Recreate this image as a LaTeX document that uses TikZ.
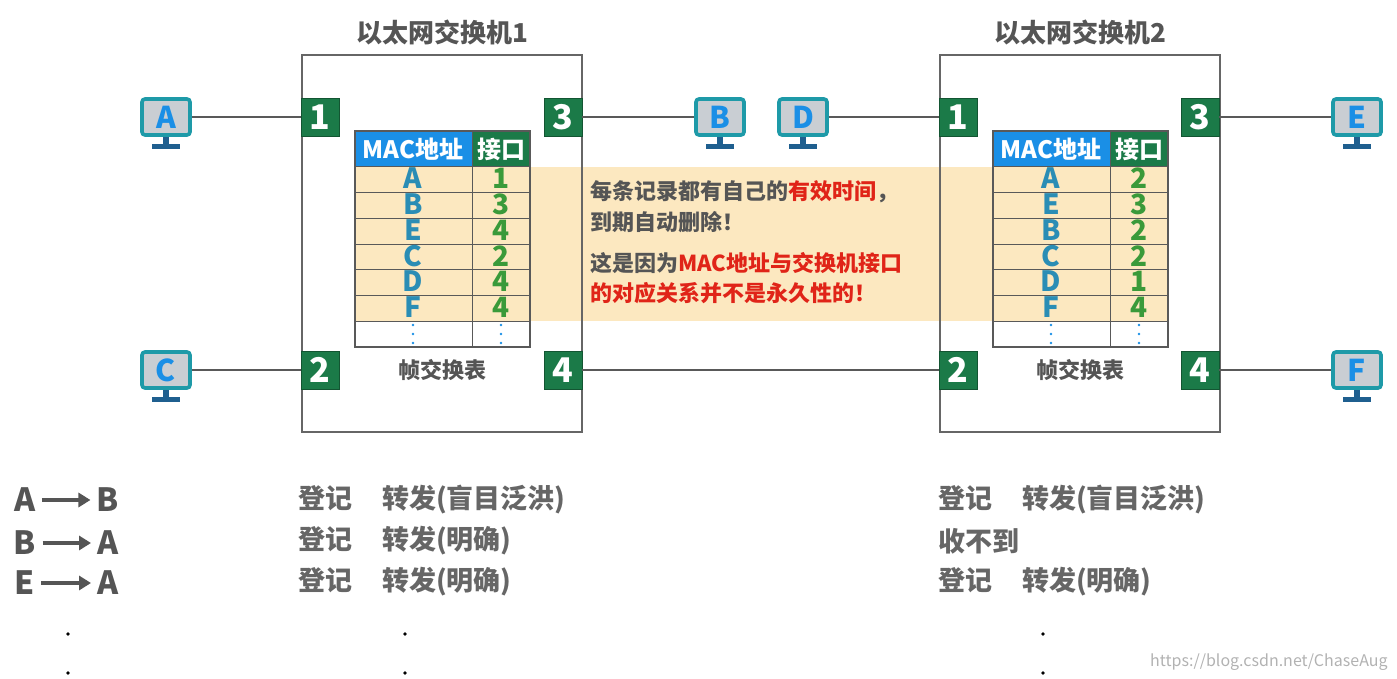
\documentclass[tikz,border=0pt]{standalone}
\usepackage{fontspec}
\setmainfont{Noto Sans CJK SC}
\usetikzlibrary{arrows.meta,calc}
\definecolor{pgreen}{HTML}{1B7A48}
\definecolor{hblue}{HTML}{1A8FE6}
\definecolor{lteal}{HTML}{2A8DB5}
\definecolor{ngreen}{HTML}{3A9A3A}
\definecolor{tgray}{HTML}{555555}
\definecolor{tred}{HTML}{E02418}
\definecolor{band}{HTML}{FCE8C0}
\definecolor{mon}{HTML}{1E9AA8}
\definecolor{monfill}{HTML}{C9CED3}
\definecolor{stand}{HTML}{1F5F8F}
\tikzset{x=0.5pt,y=-0.5pt,
 port/.style={fill=pgreen,draw=pgreen!70!black,minimum size=19pt,inner sep=0pt,text=white,font=\fontsize{17}{17}\selectfont\bfseries},
 sw/.style={draw=gray!80!black,line width=0.6pt},
 link/.style={draw=gray!70!black,line width=0.9pt},
 ttl/.style={font=\fontsize{13}{13}\selectfont\bfseries,text=tgray},
 btxt/.style={font=\fontsize{13.5}{14}\selectfont\bfseries,text=tgray!90,anchor=west,inner sep=0pt},
 cell/.style={font=\fontsize{12}{12}\selectfont\bfseries,inner sep=0pt},
 ent/.style={inner sep=0pt,font=\fontsize{14}{14}\selectfont\bfseries,text height=9pt,text depth=0pt},
}
\newcommand{\pc}[3]{%
 \node[draw=mon,line width=1.8pt,fill=monfill,rounded corners=1.5pt,minimum width=24pt,minimum height=18pt,inner sep=0pt,text=hblue,font=\fontsize{15}{15}\selectfont\bfseries] (#1) at (#2) {#3};
 \fill[stand] ($(#1.south)+(-3,0)$) rectangle ($(#1.south)+(3,7)$);
 \fill[stand] ($(#1.south)+(-14,7)$) rectangle ($(#1.south)+(14,12)$);
}
\newcommand{\mactable}[3]{%
 \begin{scope}[shift={(#1,0)}]
 \fill[hblue] (0,131) rectangle (117,167);
 \fill[pgreen] (117,131) rectangle (175,167);
 \node[cell,text=white] at (58,149) {MAC地址};
 \node[cell,text=white] at (146,149) {接口};
 \foreach \i in {0,...,6} {\draw[gray!70!black,line width=0.5pt] (0,{167+\i*25.7}) -- (175,{167+\i*25.7});}
 \draw[gray!70!black,line width=0.6pt] (0,131) rectangle (175,347);
 \draw[gray!70!black,line width=0.5pt] (117,131) -- (117,347);
 \foreach \l [count=\i from 0] in {#2} {\node[ent,text=lteal] at (58,{180+\i*25.7}) {\l};}
 \foreach \l [count=\i from 0] in {#3} {\node[ent,text=ngreen] at (146,{180+\i*25.7}) {\l};}
 \foreach \xx in {58,146} {\foreach \yy in {325,334,343} \fill[hblue] (\xx,\yy) circle (1.4);}
 \node[ttl,font=\fontsize{11}{11}\selectfont\bfseries] at (87,370) {帧交换表};
 \end{scope}}
\begin{document}
\begin{tikzpicture}
\useasboundingbox (0,0) rectangle (1397,679);
\fill[band] (355,167) rectangle (1167,321);
\draw[sw] (302,55) rectangle (582,432);
\draw[sw] (940,55) rectangle (1220,432);
\node[ttl] at (442,32) {以太网交换机1};
\node[ttl] at (1080,32) {以太网交换机2};
\mactable{355}{A,B,E,C,D,F}{1,3,4,2,4,4}
\mactable{993}{A,E,B,C,D,F}{2,3,2,2,1,4}
\begin{scope}[every node/.style={anchor=west,font=\fontsize{11}{11}\selectfont\bfseries,text=tgray,inner sep=0pt}]
\node at (590,192) {每条记录都有自己的\textcolor{tred}{有效时间}，};
\node at (590,222) {到期自动删除！};
\node at (590,263) {这是因为\textcolor{tred}{MAC地址与交换机接口}};
\node[text=tred] at (590,293) {的对应关系并不是永久性的！};
\end{scope}
\node[port] (p11) at (320,117) {1};
\node[port] (p13) at (563,117) {3};
\node[port] (p12) at (320,370) {2};
\node[port] (p14) at (563,370) {4};
\node[port] (p21) at (958,117) {1};
\node[port] (p23) at (1200,117) {3};
\node[port] (p22) at (958,370) {2};
\node[port] (p24) at (1200,370) {4};
\pc{A}{166,117}{A}
\pc{B}{720,117}{B}
\pc{D}{803,117}{D}
\pc{E}{1357,117}{E}
\pc{C}{166,370}{C}
\pc{F}{1357,370}{F}
\draw[link] (A) -- (p11);
\draw[link] (p13) -- (B);
\draw[link] (D) -- (p21);
\draw[link] (p23) -- (E);
\draw[link] (C) -- (p12);
\draw[link] (p14) -- (p22);
\draw[link] (p24) -- (F);
\begin{scope}[every node/.style={font=\fontsize{16}{16}\selectfont\bfseries,text=tgray,inner sep=0pt}]
\foreach \a/\b/\yy in {A/B/500,B/A/543,E/A/583}{
 \node (s\yy) at (25,\yy) {\a};
 \node (t\yy) at (108,\yy) {\b};
 \draw[tgray,line width=2.4pt,-{Triangle[length=6pt,width=7pt]}] (s\yy.east) ++(6,0) -- ($(t\yy.west)+(-6,0)$);
}
\end{scope}
\node[btxt] at (298,500) {登记\hspace{1.1em}转发(盲目泛洪)};
\node[btxt] at (298,541) {登记\hspace{1.1em}转发(明确)};
\node[btxt] at (298,582) {登记\hspace{1.1em}转发(明确)};
\node[btxt] at (938,500) {登记\hspace{1.1em}转发(盲目泛洪)};
\node[btxt] at (938,541) {收不到};
\node[btxt] at (938,582) {登记\hspace{1.1em}转发(明确)};
\foreach \xx in {68,405,1043}{\fill[black] (\xx,634) circle (1.8); \fill[black] (\xx,673) circle (1.8);}
\node[anchor=east,font=\fontsize{8}{8}\selectfont,text=gray!60,inner sep=0pt] at (1388,662) {https://blog.csdn.net/ChaseAug};
\end{tikzpicture}
\end{document}
